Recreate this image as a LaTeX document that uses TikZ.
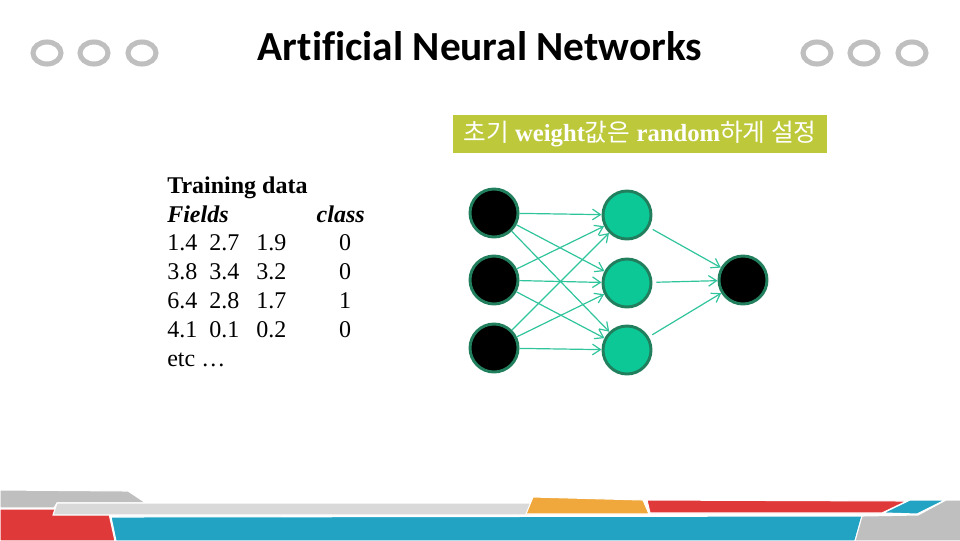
\documentclass[tikz,border=0pt]{standalone}
\usepackage{fontspec}
\setmainfont{Liberation Serif}
\newfontfamily\titlefont[Ligatures=NoCommon]{Carlito}
\newfontfamily\kofont{Noto Sans CJK KR}
\usepackage{xcolor}
\usetikzlibrary{arrows.meta,positioning}
\definecolor{ovalgray}{HTML}{BFBFBF}
\definecolor{lightband}{HTML}{D9D9D9}
\definecolor{bandred}{HTML}{E0393A}
\definecolor{bandblue}{HTML}{22A3C4}
\definecolor{bandorange}{HTML}{F0A83C}
\definecolor{boxgreen}{HTML}{BDC83B}
\definecolor{hiddenfill}{HTML}{0BC896}
\definecolor{nodeborder}{HTML}{217F5E}
\definecolor{linkgreen}{HTML}{2FC49B}
\tikzset{
  neuron/.style={circle, minimum size=36pt, inner sep=0pt, line width=2.2pt, draw=nodeborder},
  inneuron/.style={neuron, fill=black},
  hidneuron/.style={neuron, fill=hiddenfill},
  link/.style={linkgreen, line width=0.9pt, -{Straight Barb[length=6pt,width=8pt]}},
  cell/.style={anchor=base west, inner sep=0pt, font=\fontsize{18}{21.6}\selectfont},
  ring/.style={ovalgray, line width=3.8pt},
  band/.style={draw=white, line width=0.8pt}
}
\begin{document}
\begin{tikzpicture}[x=0.75pt,y=-0.75pt]
       \useasboundingbox (0,0) rectangle (960,540);
        %TITLE
       \node (title) at (480,46) {\titlefont\bfseries\fontsize{31}{36}\selectfont Artificial Neural Networks};
        %OVALS
       \draw[ring] (47,53) ellipse (14 and 11);
       \draw[ring] (94,53) ellipse (14 and 11);
       \draw[ring] (142,53) ellipse (14 and 11);
       \draw[ring] (817,53) ellipse (14 and 11);
       \draw[ring] (864,53) ellipse (14 and 11);
       \draw[ring] (912,53) ellipse (14 and 11);
        %LABEL BOX
       \node[fill=boxgreen, text=white, minimum width=280.5pt, minimum height=28.5pt, inner sep=0pt] (note) at (640,134)
            {\fontsize{18.5}{22}\selectfont{\kofont 초기} \textbf{weight}{\kofont 값은} \textbf{random}{\kofont 하게 설정}};
        %TRAINING DATA
       \node[cell] (head) at (167,193) {\textbf{Training data}};
       \node[cell] (fields) at (167,222) {\textbf{\textit{Fields}}};
       \node[cell, anchor=base east] (cls) at (365,222) {\textbf{\textit{class}}};
       \node[cell] (a1) at (167,250) {1.4};
       \node[cell] (b1) at (209,250) {2.7};
       \node[cell] (c1) at (256,250) {1.9};
       \node[cell, anchor=base] (d1) at (345,250) {0};
       \node[cell] (a2) at (167,279) {3.8};
       \node[cell] (b2) at (209,279) {3.4};
       \node[cell] (c2) at (256,279) {3.2};
       \node[cell, anchor=base] (d2) at (345,279) {0};
       \node[cell] (a3) at (167,308) {6.4};
       \node[cell] (b3) at (209,308) {2.8};
       \node[cell] (c3) at (256,308) {1.7};
       \node[cell, anchor=base] (d3) at (345,308) {1};
       \node[cell] (a4) at (167,337) {4.1};
       \node[cell] (b4) at (209,337) {0.1};
       \node[cell] (c4) at (256,337) {0.2};
       \node[cell, anchor=base] (d4) at (345,337) {0};
       \node[cell] (etc) at (167,366) {etc \ldots};
        %NEURONS
       \node[inneuron] (in1) at (494,213) {};
       \node[inneuron] (in2) at (494,280) {};
       \node[inneuron] (in3) at (494,348) {};
       \node[hidneuron] (hid1) at (627,215) {};
       \node[hidneuron] (hid2) at (627,283) {};
       \node[hidneuron] (hid3) at (627,350) {};
       \node[inneuron] (out) at (743,280) {};
        %LINKS
       \draw[link] (in1) -- (hid1);
       \draw[link] (in1) -- (hid2);
       \draw[link] (in1) -- (hid3);
       \draw[link] (in2) -- (hid1);
       \draw[link] (in2) -- (hid2);
       \draw[link] (in2) -- (hid3);
       \draw[link] (in3) -- (hid1);
       \draw[link] (in3) -- (hid2);
       \draw[link] (in3) -- (hid3);
       \draw[link, shorten <=3pt] (hid1) -- (out);
       \draw[link, shorten <=3pt] (hid2) -- (out);
       \draw[link, shorten <=3pt] (hid3) -- (out);
        %BOTTOM BAND
       \fill[band, fill=ovalgray] (0,490) -- (128,491) -- (146,503) -- (57,503) -- (54,508) -- (0,508) -- cycle;
       \fill[band, fill=bandred] (0,509) -- (108,509) -- (115,541) -- (0,541) -- cycle;
       \fill[band, fill=lightband] (57,503) -- (536,503) -- (531,515) -- (53,515) -- cycle;
       \filldraw[band, fill=bandblue] (111,517) -- (862,516) -- (855,541) -- (116,541) -- cycle;
       \filldraw[band, fill=bandorange] (533,497) -- (643,500) -- (649,514) -- (526,514) -- cycle;
       \filldraw[band, fill=bandred] (647,500) -- (907,501) -- (882,513) -- (650,513) -- cycle;
       \filldraw[band, fill=bandblue] (910,500) -- (945,500) -- (917,514) -- (883,513) -- cycle;
       \filldraw[band, fill=ovalgray] (862,516) -- (918,515) -- (946,500) -- (961,500) -- (961,541) -- (855,541) -- cycle;
\end{tikzpicture}
\end{document}
